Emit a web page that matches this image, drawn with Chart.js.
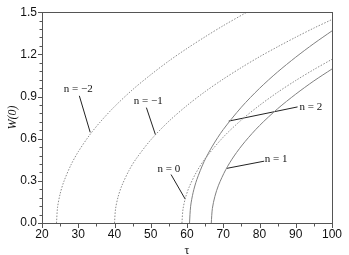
<!DOCTYPE html>
<html>
<head>
<meta charset="utf-8">
<script src="https://cdn.jsdelivr.net/npm/chart.js@4"></script>
<style>
  html, body { margin: 0; padding: 0; background: #fff; }
  canvas { display: block; }
</style>
</head>
<body>
<canvas id="chart" width="349" height="255"></canvas>
<script>
// τ and W(0)
const tauNm2 = [24, 24.3, 25, 26, 28, 30, 33, 36, 40, 45, 50, 55, 60, 65, 70, 76.5];
const wNm2   = [0, 0.113, 0.207, 0.293, 0.414, 0.507, 0.621, 0.717, 0.828, 0.949, 1.055, 1.153, 1.242, 1.325, 1.404, 1.5];

const tauNm1 = [40, 40.3, 41, 42, 44, 46, 50, 55, 60, 65, 70, 75, 80, 85, 90, 95, 100];
const wNm1   = [0, 0.102, 0.187, 0.264, 0.374, 0.458, 0.591, 0.724, 0.836, 0.935, 1.024, 1.106, 1.183, 1.254, 1.322, 1.387, 1.448];

const tauN0 = [58.6, 58.9, 59.6, 60.6, 62.6, 65, 70, 75, 80, 85, 90, 95, 100];
const wN0   = [0, 0.099, 0.181, 0.256, 0.362, 0.458, 0.611, 0.733, 0.837, 0.930, 1.014, 1.092, 1.165];

const tauN2 = [60.7, 61, 61.7, 62.7, 64.7, 67, 70, 75, 80, 85, 90, 95, 100];
const wN2   = [0, 0.119, 0.218, 0.308, 0.436, 0.547, 0.665, 0.824, 0.958, 1.075, 1.180, 1.277, 1.367];

const tauN1 = [66.7, 67, 67.7, 68.7, 70.7, 73, 76, 80, 85, 90, 95, 100];
const wN1   = [0, 0.104, 0.190, 0.269, 0.380, 0.477, 0.579, 0.693, 0.813, 0.917, 1.011, 1.096];

// labels with leader lines (data coordinates)
const annLabels = ['n = \u22122', 'n = \u22121', 'n = 0', 'n = 2', 'n = 1'];
const annText = [[30.0, 0.954], [49.3, 0.870], [55.0, 0.387], [94.2, 0.826], [84.6, 0.456]];
const annFrom = [[30.3, 0.905], [48.8, 0.821], [55.6, 0.345], [90.5, 0.826], [81.3, 0.440]];
const annTo   = [[33.3, 0.645], [51.3, 0.628], [59.5, 0.170], [71.5, 0.725], [71.0, 0.389]];

function pts(xs, ys) {
    return xs.map((x, i) => ({ x: x, y: ys[i] }));
}

const dotted = { borderColor: '#8c8c8c', borderWidth: 1, borderDash: [1.5, 1.5], pointRadius: 0, showLine: true, tension: 0.3 };
const solid = { borderColor: '#808080', borderWidth: 1, pointRadius: 0, showLine: true, tension: 0.3 };

const datasets = [
    Object.assign({ data: pts(tauNm2, wNm2) }, dotted),
    Object.assign({ data: pts(tauNm1, wNm1) }, dotted),
    Object.assign({ data: pts(tauN0, wN0) }, dotted),
    Object.assign({ data: pts(tauN2, wN2) }, solid),
    Object.assign({ data: pts(tauN1, wN1) }, solid)
];
annFrom.forEach((p, i) => {
    datasets.push({
        data: [{ x: p[0], y: p[1] }, { x: annTo[i][0], y: annTo[i][1] }],
        borderColor: '#222', borderWidth: 1, pointRadius: 0, showLine: true
    });
});

// frame, ticks (major + minor) and text labels
const decor = {
    id: 'decor',
    afterDraw(chart) {
        const ctx = chart.ctx;
        const a = chart.chartArea;
        const xs = chart.scales.x, ys = chart.scales.y;
        ctx.save();
        ctx.strokeStyle = '#555';
        ctx.lineWidth = 1;
        ctx.strokeRect(Math.round(a.left) + 0.5, Math.round(a.top) + 0.5,
            Math.round(a.right - a.left), Math.round(a.bottom - a.top));
        ctx.beginPath();
        for (let i = 0; i <= 25; i++) {
            const py = Math.round(ys.getPixelForValue(i * 0.06)) + 0.5;
            const len = i % 5 === 0 ? 4 : 2.5;
            ctx.moveTo(Math.round(a.left), py);
            ctx.lineTo(Math.round(a.left) - len, py);
        }
        for (let i = 0; i <= 16; i++) {
            const px = Math.round(xs.getPixelForValue(20 + i * 5)) + 0.5;
            const len = i % 2 === 0 ? 4 : 2.5;
            ctx.moveTo(px, Math.round(a.bottom) + 1);
            ctx.lineTo(px, Math.round(a.bottom) + 1 + len);
        }
        ctx.stroke();

        ctx.fillStyle = '#111';
        ctx.font = '11px "Liberation Serif", serif';
        ctx.textAlign = 'center';
        ctx.textBaseline = 'middle';
        annLabels.forEach((t, i) => {
            ctx.fillText(t, xs.getPixelForValue(annText[i][0]), ys.getPixelForValue(annText[i][1]));
        });
        ctx.restore();
    }
};

new Chart(document.getElementById('chart'), {
    type: 'scatter',
    data: { datasets: datasets },
    options: {
        responsive: false,
        animation: false,
        layout: { padding: { top: 8, right: 17, left: 0, bottom: 0 } },
        plugins: { legend: { display: false }, tooltip: { enabled: false } },
        scales: {
            x: {
                type: 'linear', min: 20, max: 100,
                grid: { display: false, drawTicks: false, tickLength: 0 },
                border: { display: false },
                ticks: {
                    stepSize: 10, padding: 4, color: '#111',
                    font: { family: '"Liberation Sans", Arial, sans-serif', size: 12 }
                },
                title: {
                    display: true, text: '\u03c4', color: '#111',
                    font: { family: '"Liberation Serif", serif', size: 12, lineHeight: 1 },
                    padding: { top: 0, bottom: -2 }
                },
                afterFit(scale) { scale.height = 32; }
            },
            y: {
                min: 0, max: 1.5,
                grid: { display: false, drawTicks: false, tickLength: 0 },
                border: { display: false },
                ticks: {
                    stepSize: 0.3, padding: 5, color: '#111',
                    font: { family: '"Liberation Sans", Arial, sans-serif', size: 12 },
                    callback: v => v.toFixed(1)
                },
                title: {
                    display: true, text: 'W(0)', color: '#111',
                    font: { family: '"Liberation Serif", serif', size: 12, style: 'italic', lineHeight: 1.2 },
                    padding: { top: 6, bottom: 0 }
                },
                afterFit(scale) { scale.width = 42; }
            }
        }
    },
    plugins: [decor]
});
</script>
</body>
</html>
